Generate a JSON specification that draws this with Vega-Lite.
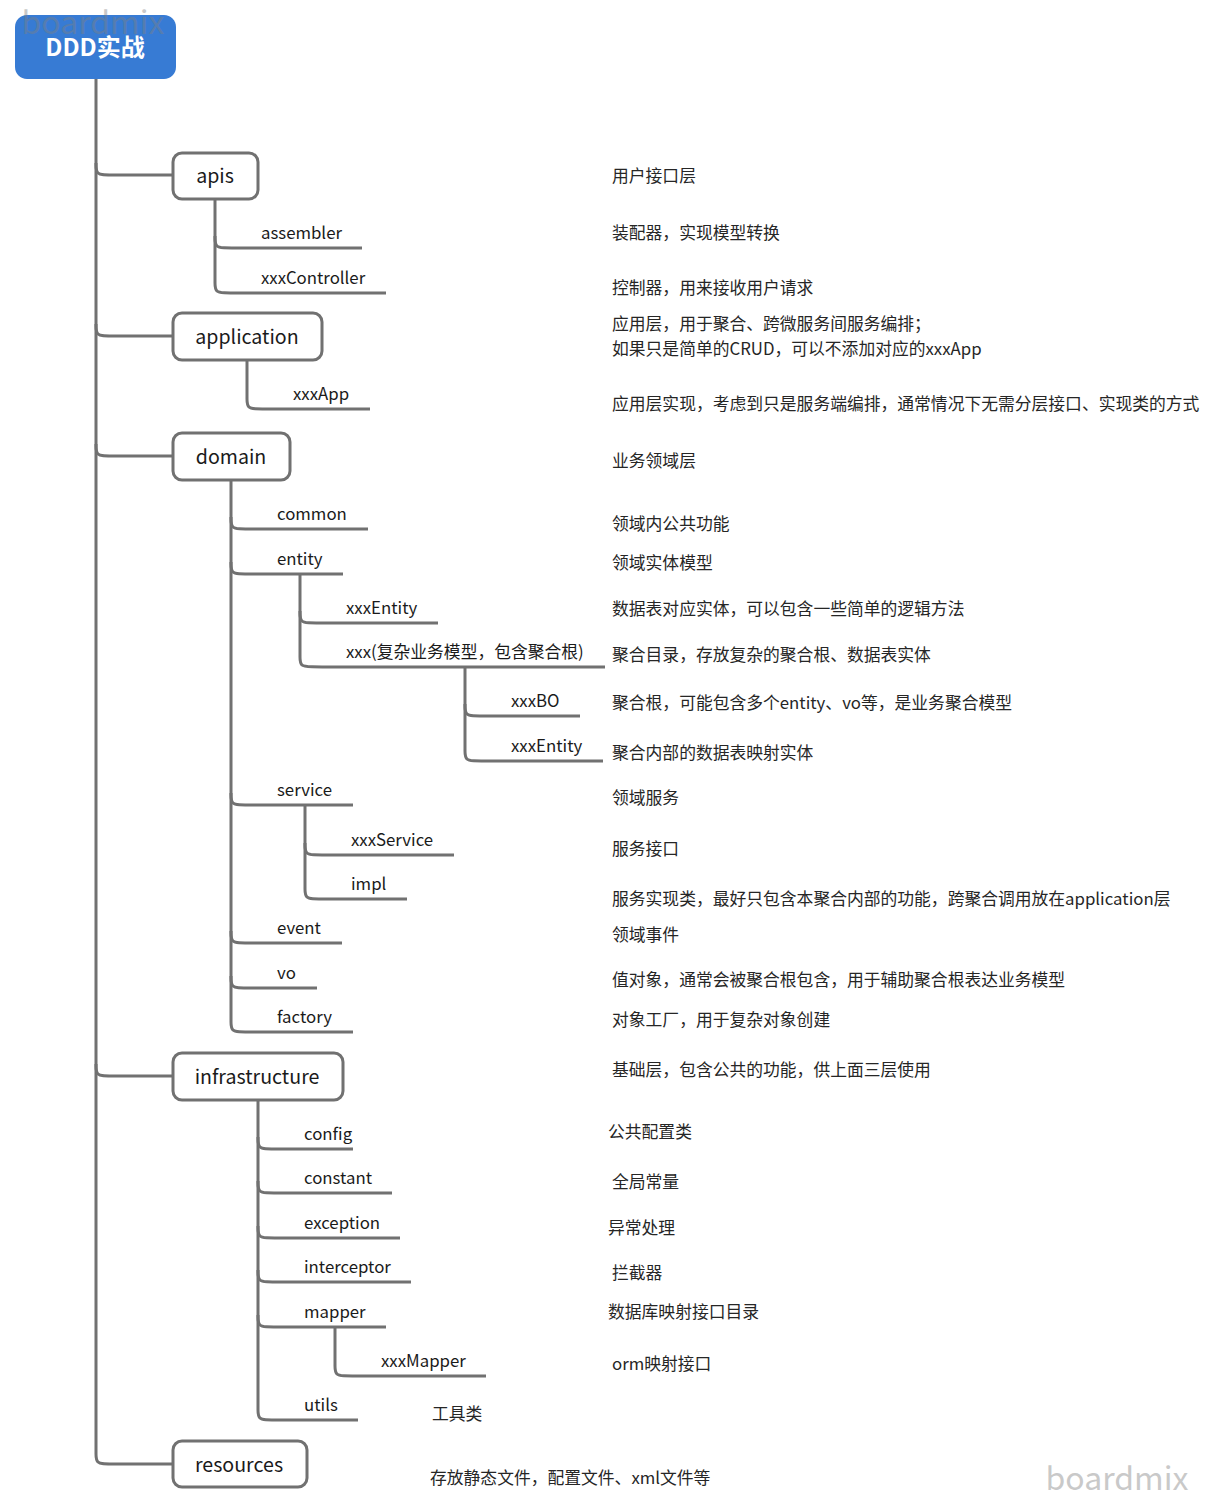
{
  "$schema": "https://vega.github.io/schema/vega-lite/v6.json",
  "width": 1209,
  "height": 1502,
  "autosize": {"type": "fit", "contains": "padding"},
  "padding": 0,
  "background": "white",
  "config": {"view": {"stroke": null}},
  "datasets": {
    "topnode": [{"name": "DDD实战", "x": 15, "x2": 176, "y": 15, "y2": 79, "cx": 95, "cy": 48}],
    "boxes": [
      {"name": "apis", "x": 173, "x2": 258, "y": 153, "y2": 199, "cx": 215, "cy": 176},
      {"name": "application", "x": 173, "x2": 322, "y": 313, "y2": 360, "cx": 247, "cy": 337},
      {"name": "domain", "x": 173, "x2": 290, "y": 433, "y2": 480, "cx": 231, "cy": 457},
      {"name": "infrastructure", "x": 173, "x2": 343, "y": 1053, "y2": 1100, "cx": 257, "cy": 1077},
      {"name": "resources", "x": 173, "x2": 307, "y": 1441, "y2": 1487, "cx": 239, "cy": 1465}
    ],
    "trunks": [
      {"x": 96, "y": 79, "y2": 1452},
      {"x": 215, "y": 199, "y2": 281},
      {"x": 247, "y": 360, "y2": 397},
      {"x": 231, "y": 480, "y2": 1020},
      {"x": 300, "y": 574, "y2": 655},
      {"x": 465, "y": 667, "y2": 749},
      {"x": 305, "y": 805, "y2": 887},
      {"x": 258, "y": 1100, "y2": 1408},
      {"x": 335, "y": 1327, "y2": 1364}
    ],
    "conn": [
      {"id": "apis", "o": 1, "x": 96, "y": 163}, {"id": "apis", "o": 2, "x": 96, "y": 175}, {"id": "apis", "o": 3, "x": 108, "y": 175}, {"id": "apis", "o": 4, "x": 173, "y": 175},
      {"id": "application", "o": 1, "x": 96, "y": 324}, {"id": "application", "o": 2, "x": 96, "y": 336}, {"id": "application", "o": 3, "x": 108, "y": 336}, {"id": "application", "o": 4, "x": 173, "y": 336},
      {"id": "domain", "o": 1, "x": 96, "y": 444}, {"id": "domain", "o": 2, "x": 96, "y": 456}, {"id": "domain", "o": 3, "x": 108, "y": 456}, {"id": "domain", "o": 4, "x": 173, "y": 456},
      {"id": "infrastructure", "o": 1, "x": 96, "y": 1064}, {"id": "infrastructure", "o": 2, "x": 96, "y": 1076}, {"id": "infrastructure", "o": 3, "x": 108, "y": 1076}, {"id": "infrastructure", "o": 4, "x": 173, "y": 1076},
      {"id": "resources", "o": 1, "x": 96, "y": 1452}, {"id": "resources", "o": 2, "x": 96, "y": 1464}, {"id": "resources", "o": 3, "x": 108, "y": 1464}, {"id": "resources", "o": 4, "x": 173, "y": 1464},
      {"id": "assembler", "o": 1, "x": 215, "y": 236}, {"id": "assembler", "o": 2, "x": 215, "y": 248}, {"id": "assembler", "o": 3, "x": 227, "y": 248}, {"id": "assembler", "o": 4, "x": 362, "y": 248},
      {"id": "xxxController", "o": 1, "x": 215, "y": 281}, {"id": "xxxController", "o": 2, "x": 215, "y": 293}, {"id": "xxxController", "o": 3, "x": 227, "y": 293}, {"id": "xxxController", "o": 4, "x": 386, "y": 293},
      {"id": "xxxApp", "o": 1, "x": 247, "y": 397}, {"id": "xxxApp", "o": 2, "x": 247, "y": 409}, {"id": "xxxApp", "o": 3, "x": 259, "y": 409}, {"id": "xxxApp", "o": 4, "x": 370, "y": 409},
      {"id": "common", "o": 1, "x": 231, "y": 517}, {"id": "common", "o": 2, "x": 231, "y": 529}, {"id": "common", "o": 3, "x": 243, "y": 529}, {"id": "common", "o": 4, "x": 368, "y": 529},
      {"id": "entity", "o": 1, "x": 231, "y": 562}, {"id": "entity", "o": 2, "x": 231, "y": 574}, {"id": "entity", "o": 3, "x": 243, "y": 574}, {"id": "entity", "o": 4, "x": 343, "y": 574},
      {"id": "service", "o": 1, "x": 231, "y": 793}, {"id": "service", "o": 2, "x": 231, "y": 805}, {"id": "service", "o": 3, "x": 243, "y": 805}, {"id": "service", "o": 4, "x": 353, "y": 805},
      {"id": "event", "o": 1, "x": 231, "y": 931}, {"id": "event", "o": 2, "x": 231, "y": 943}, {"id": "event", "o": 3, "x": 243, "y": 943}, {"id": "event", "o": 4, "x": 342, "y": 943},
      {"id": "vo", "o": 1, "x": 231, "y": 976}, {"id": "vo", "o": 2, "x": 231, "y": 988}, {"id": "vo", "o": 3, "x": 243, "y": 988}, {"id": "vo", "o": 4, "x": 317, "y": 988},
      {"id": "factory", "o": 1, "x": 231, "y": 1020}, {"id": "factory", "o": 2, "x": 231, "y": 1032}, {"id": "factory", "o": 3, "x": 243, "y": 1032}, {"id": "factory", "o": 4, "x": 353, "y": 1032},
      {"id": "xxxEntity", "o": 1, "x": 300, "y": 611}, {"id": "xxxEntity", "o": 2, "x": 300, "y": 623}, {"id": "xxxEntity", "o": 3, "x": 312, "y": 623}, {"id": "xxxEntity", "o": 4, "x": 438, "y": 623},
      {"id": "agg", "o": 1, "x": 300, "y": 655}, {"id": "agg", "o": 2, "x": 300, "y": 667}, {"id": "agg", "o": 3, "x": 312, "y": 667}, {"id": "agg", "o": 4, "x": 605, "y": 667},
      {"id": "xxxBO", "o": 1, "x": 465, "y": 704}, {"id": "xxxBO", "o": 2, "x": 465, "y": 716}, {"id": "xxxBO", "o": 3, "x": 477, "y": 716}, {"id": "xxxBO", "o": 4, "x": 580, "y": 716},
      {"id": "xxxEntity2", "o": 1, "x": 465, "y": 749}, {"id": "xxxEntity2", "o": 2, "x": 465, "y": 761}, {"id": "xxxEntity2", "o": 3, "x": 477, "y": 761}, {"id": "xxxEntity2", "o": 4, "x": 603, "y": 761},
      {"id": "xxxService", "o": 1, "x": 305, "y": 843}, {"id": "xxxService", "o": 2, "x": 305, "y": 855}, {"id": "xxxService", "o": 3, "x": 317, "y": 855}, {"id": "xxxService", "o": 4, "x": 454, "y": 855},
      {"id": "impl", "o": 1, "x": 305, "y": 887}, {"id": "impl", "o": 2, "x": 305, "y": 899}, {"id": "impl", "o": 3, "x": 317, "y": 899}, {"id": "impl", "o": 4, "x": 407, "y": 899},
      {"id": "config", "o": 1, "x": 258, "y": 1137}, {"id": "config", "o": 2, "x": 258, "y": 1149}, {"id": "config", "o": 3, "x": 270, "y": 1149}, {"id": "config", "o": 4, "x": 353, "y": 1149},
      {"id": "constant", "o": 1, "x": 258, "y": 1181}, {"id": "constant", "o": 2, "x": 258, "y": 1193}, {"id": "constant", "o": 3, "x": 270, "y": 1193}, {"id": "constant", "o": 4, "x": 392, "y": 1193},
      {"id": "exception", "o": 1, "x": 258, "y": 1226}, {"id": "exception", "o": 2, "x": 258, "y": 1238}, {"id": "exception", "o": 3, "x": 270, "y": 1238}, {"id": "exception", "o": 4, "x": 400, "y": 1238},
      {"id": "interceptor", "o": 1, "x": 258, "y": 1270}, {"id": "interceptor", "o": 2, "x": 258, "y": 1282}, {"id": "interceptor", "o": 3, "x": 270, "y": 1282}, {"id": "interceptor", "o": 4, "x": 411, "y": 1282},
      {"id": "mapper", "o": 1, "x": 258, "y": 1315}, {"id": "mapper", "o": 2, "x": 258, "y": 1327}, {"id": "mapper", "o": 3, "x": 270, "y": 1327}, {"id": "mapper", "o": 4, "x": 386, "y": 1327},
      {"id": "utils", "o": 1, "x": 258, "y": 1408}, {"id": "utils", "o": 2, "x": 258, "y": 1420}, {"id": "utils", "o": 3, "x": 270, "y": 1420}, {"id": "utils", "o": 4, "x": 358, "y": 1420},
      {"id": "xxxMapper", "o": 1, "x": 335, "y": 1364}, {"id": "xxxMapper", "o": 2, "x": 335, "y": 1376}, {"id": "xxxMapper", "o": 3, "x": 347, "y": 1376}, {"id": "xxxMapper", "o": 4, "x": 486, "y": 1376}
    ],
    "l2": [
      {"t": "assembler", "x": 261, "y": 233},
      {"t": "xxxController", "x": 261, "y": 278},
      {"t": "xxxApp", "x": 293, "y": 394},
      {"t": "common", "x": 277, "y": 514},
      {"t": "entity", "x": 277, "y": 559},
      {"t": "xxxEntity", "x": 346, "y": 608},
      {"t": "xxx(复杂业务模型，包含聚合根)", "x": 346, "y": 652},
      {"t": "xxxBO", "x": 511, "y": 701},
      {"t": "xxxEntity", "x": 511, "y": 746},
      {"t": "service", "x": 277, "y": 790},
      {"t": "xxxService", "x": 351, "y": 840},
      {"t": "impl", "x": 351, "y": 884},
      {"t": "event", "x": 277, "y": 928},
      {"t": "vo", "x": 277, "y": 973},
      {"t": "factory", "x": 277, "y": 1017},
      {"t": "config", "x": 304, "y": 1134},
      {"t": "constant", "x": 304, "y": 1178},
      {"t": "exception", "x": 304, "y": 1223},
      {"t": "interceptor", "x": 304, "y": 1267},
      {"t": "mapper", "x": 304, "y": 1312},
      {"t": "xxxMapper", "x": 381, "y": 1361},
      {"t": "utils", "x": 304, "y": 1405}
    ],
    "desc": [
      {"t": "用户接口层", "x": 612, "y": 176},
      {"t": "装配器，实现模型转换", "x": 612, "y": 233},
      {"t": "控制器，用来接收用户请求", "x": 612, "y": 288},
      {"t": "应用层，用于聚合、跨微服务间服务编排；", "x": 612, "y": 324},
      {"t": "如果只是简单的CRUD，可以不添加对应的xxxApp", "x": 612, "y": 349},
      {"t": "应用层实现，考虑到只是服务端编排，通常情况下无需分层接口、实现类的方式", "x": 612, "y": 404},
      {"t": "业务领域层", "x": 612, "y": 461},
      {"t": "领域内公共功能", "x": 612, "y": 524},
      {"t": "领域实体模型", "x": 612, "y": 563},
      {"t": "数据表对应实体，可以包含一些简单的逻辑方法", "x": 612, "y": 609},
      {"t": "聚合目录，存放复杂的聚合根、数据表实体", "x": 612, "y": 655},
      {"t": "聚合根，可能包含多个entity、vo等，是业务聚合模型", "x": 612, "y": 703},
      {"t": "聚合内部的数据表映射实体", "x": 612, "y": 753},
      {"t": "领域服务", "x": 612, "y": 798},
      {"t": "服务接口", "x": 612, "y": 849},
      {"t": "服务实现类，最好只包含本聚合内部的功能，跨聚合调用放在application层", "x": 612, "y": 899},
      {"t": "领域事件", "x": 612, "y": 935},
      {"t": "值对象，通常会被聚合根包含，用于辅助聚合根表达业务模型", "x": 612, "y": 980},
      {"t": "对象工厂，用于复杂对象创建", "x": 612, "y": 1020},
      {"t": "基础层，包含公共的功能，供上面三层使用", "x": 612, "y": 1070},
      {"t": "公共配置类", "x": 608, "y": 1132},
      {"t": "全局常量", "x": 612, "y": 1182},
      {"t": "异常处理", "x": 608, "y": 1228},
      {"t": "拦截器", "x": 612, "y": 1273},
      {"t": "数据库映射接口目录", "x": 608, "y": 1312},
      {"t": "orm映射接口", "x": 612, "y": 1364},
      {"t": "工具类", "x": 432, "y": 1414},
      {"t": "存放静态文件，配置文件、xml文件等", "x": 430, "y": 1478}
    ],
    "wm": [
      {"t": "boardmix", "x": 93, "y": 24},
      {"t": "boardmix", "x": 1117, "y": 1480}
    ]
  },
  "layer": [
    {
      "data": {"name": "trunks"},
      "mark": {"type": "rule", "stroke": "#717171", "strokeWidth": 3},
      "encoding": {
        "x": {"field": "x", "type": "quantitative", "scale": {"domain": [0, 1209], "nice": false, "zero": false}, "axis": null},
        "y": {"field": "y", "type": "quantitative", "scale": {"domain": [0, 1502], "nice": false, "zero": false, "reverse": true}, "axis": null},
        "y2": {"field": "y2"}
      }
    },
    {
      "data": {"name": "conn"},
      "mark": {"type": "line", "interpolate": "basis", "stroke": "#717171", "strokeWidth": 3, "strokeCap": "butt"},
      "encoding": {
        "x": {"field": "x", "type": "quantitative"},
        "y": {"field": "y", "type": "quantitative"},
        "detail": {"field": "id"},
        "order": {"field": "o", "type": "quantitative"}
      }
    },
    {
      "data": {"name": "topnode"},
      "mark": {"type": "rect", "fill": "#377bd4", "cornerRadius": 12},
      "encoding": {
        "x": {"field": "x", "type": "quantitative"},
        "x2": {"field": "x2"},
        "y": {"field": "y", "type": "quantitative"},
        "y2": {"field": "y2"}
      }
    },
    {
      "data": {"name": "topnode"},
      "mark": {"type": "text", "font": "Noto Sans CJK SC", "fontSize": 24, "fontWeight": "bold", "fill": "white", "align": "center", "baseline": "middle", "dy": 1},
      "encoding": {
        "x": {"field": "cx", "type": "quantitative"},
        "y": {"field": "cy", "type": "quantitative"},
        "text": {"field": "name"}
      }
    },
    {
      "data": {"name": "boxes"},
      "mark": {"type": "rect", "fill": "white", "stroke": "#717171", "strokeWidth": 3, "cornerRadius": 9},
      "encoding": {
        "x": {"field": "x", "type": "quantitative"},
        "x2": {"field": "x2"},
        "y": {"field": "y", "type": "quantitative"},
        "y2": {"field": "y2"}
      }
    },
    {
      "data": {"name": "boxes"},
      "mark": {"type": "text", "font": "Noto Sans CJK SC", "fontSize": 19.6, "fill": "#1a1a1a", "align": "center", "baseline": "middle", "dy": 1},
      "encoding": {
        "x": {"field": "cx", "type": "quantitative"},
        "y": {"field": "cy", "type": "quantitative"},
        "text": {"field": "name"}
      }
    },
    {
      "data": {"name": "l2"},
      "mark": {"type": "text", "font": "Noto Sans CJK SC", "fontSize": 16.8, "fill": "#1a1a1a", "align": "left", "baseline": "middle", "dy": 1},
      "encoding": {
        "x": {"field": "x", "type": "quantitative"},
        "y": {"field": "y", "type": "quantitative"},
        "text": {"field": "t"}
      }
    },
    {
      "data": {"name": "desc"},
      "mark": {"type": "text", "font": "Noto Sans CJK SC", "fontSize": 16.8, "fill": "#262626", "align": "left", "baseline": "middle", "dy": 1},
      "encoding": {
        "x": {"field": "x", "type": "quantitative"},
        "y": {"field": "y", "type": "quantitative"},
        "text": {"field": "t"}
      }
    },
    {
      "data": {"name": "wm"},
      "mark": {"type": "text", "font": "Noto Sans CJK SC", "fontSize": 32, "fill": "#808080", "opacity": 0.42, "align": "center", "baseline": "middle"},
      "encoding": {
        "x": {"field": "x", "type": "quantitative"},
        "y": {"field": "y", "type": "quantitative"},
        "text": {"field": "t"}
      }
    }
  ]
}
